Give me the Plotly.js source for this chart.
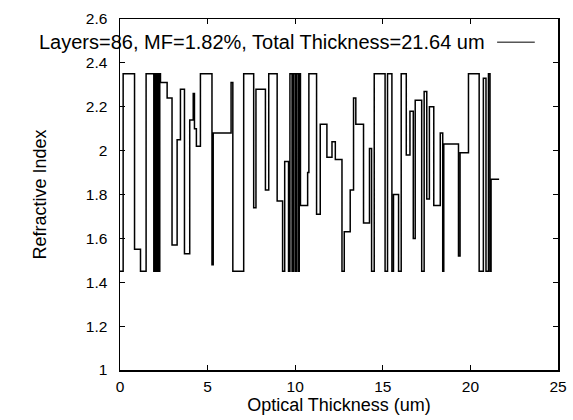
<!DOCTYPE html>
<html>
<head>
<meta charset="utf-8">
<script src="https://cdn.plot.ly/plotly-3.0.1.min.js"></script>
<style>html,body{margin:0;padding:0;background:#fff;}#chart{width:573px;height:420px;}</style>
</head>
<body>
<div id="chart"></div>
<script>
// Layer start positions (optical thickness, um) and refractive index of each layer
const layerStart = [
  0.00, 0.18, 0.83, 1.17, 1.49, 1.93, 2.00, 2.07, 2.13, 2.20,
  2.27, 2.31, 2.69, 2.97, 3.26, 3.45, 3.68, 3.98, 4.18, 4.25,
  4.36, 4.59, 5.25, 5.32, 6.34, 6.44, 7.06, 7.63, 7.76, 8.30,
  8.49, 8.97, 9.28, 9.40, 9.62, 9.70, 9.82, 9.90, 10.00, 10.07,
  10.17, 10.23, 10.30, 10.71, 10.78, 11.22, 11.43, 11.81, 12.10, 12.29,
  12.67, 12.80, 13.14, 13.33, 13.46, 13.90, 14.24, 14.36, 14.51, 15.13,
  15.27, 15.52, 15.61, 15.90, 16.05, 16.34, 16.55, 16.74, 16.85, 17.22,
  17.36, 17.51, 17.66, 17.91, 18.28, 18.42, 18.48, 19.32, 19.41, 19.89,
  20.50, 20.74, 20.89, 21.03, 21.12, 21.18
];
const layerIndex = [
  1.45, 2.35, 1.55, 1.45, 2.35, 1.45, 2.35, 1.45, 2.35, 1.45,
  2.35, 2.31, 2.24, 1.57, 2.05, 2.28, 1.53, 2.14, 2.26, 2.10,
  2.02, 2.35, 1.48, 2.08, 2.31, 1.45, 2.35, 1.74, 2.28, 1.82,
  2.35, 1.77, 1.45, 1.95, 1.45, 2.35, 1.45, 2.35, 1.45, 2.35,
  1.45, 2.35, 1.75, 1.90, 2.35, 1.71, 2.12, 1.97, 2.04, 1.96,
  1.45, 1.63, 1.82, 2.24, 2.12, 1.67, 2.01, 1.45, 2.35, 1.45,
  2.35, 1.45, 1.80, 1.45, 2.35, 1.98, 2.18, 1.60, 2.23, 1.45,
  2.27, 1.78, 2.20, 1.75, 2.08, 1.45, 2.03, 1.52, 1.99, 2.35,
  1.45, 2.33, 1.45, 2.35, 1.45, 1.87
];
const totalThickness = 21.64;
const legendText = 'Layers=86, MF=1.82%, Total Thickness=21.64 um';
const xTickVals = [0, 5, 10, 15, 20, 25];
const yTickVals = [1, 1.2, 1.4, 1.6, 1.8, 2, 2.2, 2.4, 2.6];

const xs = layerStart.concat([totalThickness]);
const ys = layerIndex.concat([layerIndex[layerIndex.length - 1]]);

const fam = 'Liberation Sans, Arial, sans-serif';
const tickFont = {family: fam, size: 15.5, color: '#000'};
const textFont = {family: fam, size: 18, color: '#000'};
const keyFont = {family: fam, size: 20, color: '#000'};

const trace = {
  x: xs, y: ys, type: 'scatter', mode: 'lines',
  line: {shape: 'hv', color: '#000', width: 1.5},
  showlegend: false
};

const axisCommon = {
  showgrid: false, zeroline: false, showline: true, linecolor: '#000', linewidth: 1.5,
  mirror: 'ticks', ticks: 'inside', ticklen: 5, tickwidth: 1, tickcolor: '#000',
  tickfont: tickFont
};

const layout = {
  width: 573, height: 420,
  margin: {l: 120, r: 15, t: 19, b: 50},
  paper_bgcolor: '#fff', plot_bgcolor: '#fff',
  font: textFont,
  xaxis: Object.assign({}, axisCommon, {
    range: [0, 25], tickmode: 'array', tickvals: xTickVals,
    ticklabelstandoff: 2,
    title: {text: 'Optical Thickness (um)', font: textFont, standoff: 3}
  }),
  yaxis: Object.assign({}, axisCommon, {
    range: [1, 2.6], tickmode: 'array', tickvals: yTickVals,
    ticklabelstandoff: 8,
    title: {text: 'Refractive Index', font: textFont, standoff: 34}
  }),
  annotations: [{
    xref: 'paper', yref: 'paper', x: 0.838, y: 0.934,
    xanchor: 'right', yanchor: 'middle', showarrow: false,
    text: legendText, font: keyFont
  }],
  shapes: [{
    type: 'line', xref: 'paper', yref: 'paper',
    x0: 0.861, x1: 0.947, y0: 0.934, y1: 0.934,
    line: {color: '#000', width: 1}
  }]
};

Plotly.newPlot('chart', [trace], layout, {displayModeBar: false, staticPlot: true});
</script>
</body>
</html>
